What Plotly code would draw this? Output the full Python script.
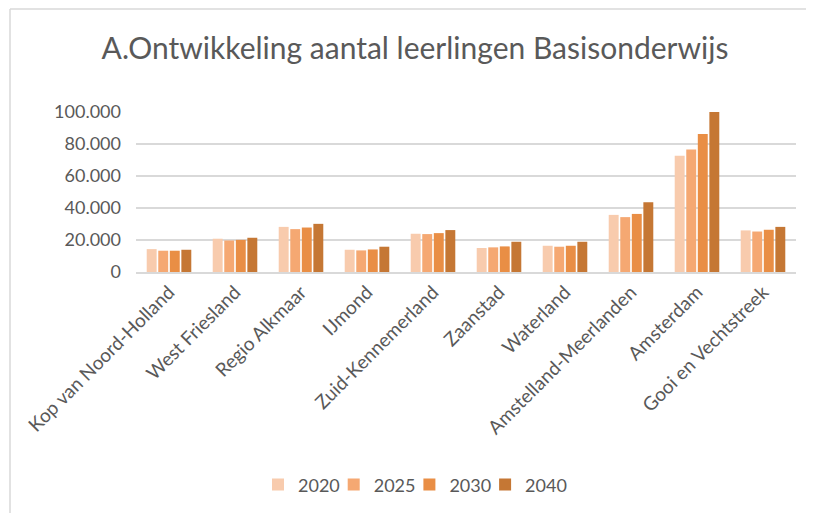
import plotly.graph_objects as go

# Regio's en leerlingaantallen per jaar
regios = ["Kop van Noord-Holland", "West Friesland", "Regio Alkmaar", "IJmond",
          "Zuid-Kennemerland", "Zaanstad", "Waterland", "Amstelland-Meerlanden",
          "Amsterdam", "Gooi en Vechtstreek"]
jaren = ["2020", "2025", "2030", "2040"]
leerlingen_2020 = [14300, 20800, 28200, 13900, 23900, 15000, 16400, 35700, 72700, 26000]
leerlingen_2025 = [13300, 19700, 26800, 13500, 23700, 15400, 15800, 34300, 76600, 25300]
leerlingen_2030 = [13300, 20100, 27800, 14100, 24300, 16000, 16400, 36300, 86200, 26400]
leerlingen_2040 = [13900, 21400, 30100, 15800, 26200, 18900, 18900, 43600, 100500, 28200]
kleuren = ["#F8CBAD", "#F5A872", "#E98E45", "#C57734"]

reeksen = [leerlingen_2020, leerlingen_2025, leerlingen_2030, leerlingen_2040]
legendes = ["legend", "legend2", "legend3", "legend4"]

fig = go.Figure()
for jaar, waarden, kleur, lg in zip(jaren, reeksen, kleuren, legendes):
    fig.add_trace(go.Bar(x=regios, y=waarden, name=jaar, legend=lg,
                         marker=dict(color=kleur, line=dict(width=0))))

# de pagina heeft 8px body-marge, dus alles 8px naar links/boven
W, H = 814, 513
ml, mr, mt, mb = 128, 26, 104, 249
pw = W - ml - mr
ph = H - mt - mb

# rand van het grafiekgebied (boven + links zichtbaar)
bx = (2 - ml) / pw
by = (H - mb - 1) / ph
fig.add_shape(type="line", xref="paper", yref="paper", x0=bx, x1=(W - ml) / pw,
              y0=by, y1=by, line=dict(color="#D9D9D9", width=1.5))
fig.add_shape(type="line", xref="paper", yref="paper", x0=bx, x1=bx,
              y0=by, y1=-(mb) / ph, line=dict(color="#D9D9D9", width=1.5))

# elke legenda-ingang apart, zodat de tussenruimte klopt (~76px)
leg_stijl = dict(orientation="h", xanchor="left", y=-1.33, yanchor="middle",
                 font=dict(size=18, color="#595959"), itemwidth=30,
                 bgcolor="rgba(0,0,0,0)")
leg_x = [(258 - 8 - ml + i * 75.7) / pw for i in range(4)]

fig.update_layout(
    width=W, height=H,
    margin=dict(l=ml, r=mr, t=mt, b=mb, autoexpand=False),
    paper_bgcolor="white", plot_bgcolor="white",
    font=dict(family="Lato, Carlito, sans-serif", color="#595959", size=18),
    title=dict(text="A.Ontwikkeling aantal leerlingen Basisonderwijs",
               x=0.5, xanchor="center", y=0.922, yanchor="middle",
               font=dict(size=30, color="#595959")),
    barmode="group", bargap=0.3, bargroupgap=0.14,
    separators=",.",
    legend=dict(x=leg_x[0], **leg_stijl),
    legend2=dict(x=leg_x[1], **leg_stijl),
    legend3=dict(x=leg_x[2], **leg_stijl),
    legend4=dict(x=leg_x[3], **leg_stijl),
    showlegend=True,
)
fig.update_xaxes(tickangle=-45, showline=True, linecolor="#D9D9D9", linewidth=1.5,
                 ticks="", automargin=False, tickfont=dict(size=19, color="#595959"))
fig.update_yaxes(range=[0, 100000], dtick=20000, tickformat=",d", automargin=False,
                 showgrid=True, gridcolor="#D9D9D9", gridwidth=1.5,
                 zeroline=False, ticks="", tickfont=dict(size=18, color="#595959"),
                 ticklabelstandoff=14)

fig.write_html("out.html")
